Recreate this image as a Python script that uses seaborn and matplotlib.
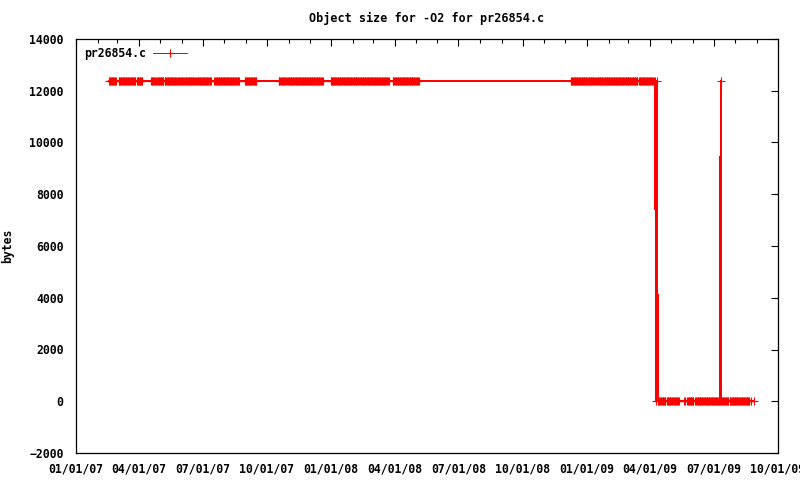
import pandas as pd
import matplotlib
matplotlib.use("Agg")
import matplotlib.pyplot as plt
import matplotlib.dates as mdates
import seaborn as sns

# object size (bytes)
size_old = 12376
size_new = 0

# nightly runs at the old size: (first day, last day)
old_runs = [
    ("2007-02-17", "2007-02-27"), ("2007-03-03", "2007-03-27"),
    ("2007-03-29", "2007-04-06"), ("2007-04-18", "2007-04-24"),
    ("2007-04-26", "2007-05-06"), ("2007-05-08", "2007-05-25"),
    ("2007-05-27", "2007-06-04"), ("2007-06-06", "2007-06-20"),
    ("2007-06-22", "2007-07-13"), ("2007-07-18", "2007-08-22"),
    ("2007-08-30", "2007-09-16"), ("2007-10-18", "2007-10-28"),
    ("2007-10-30", "2007-12-20"), ("2007-12-31", "2008-03-23"),
    ("2008-03-29", "2008-05-05"), ("2008-12-09", "2009-01-13"),
    ("2009-01-15", "2009-03-14"), ("2009-03-16", "2009-04-06"),
]

# nightly runs at the new size
new_runs = [
    ("2009-04-12", "2009-04-15"), ("2009-04-17", "2009-04-23"),
    ("2009-04-25", "2009-05-12"), ("2009-05-24", "2009-06-02"),
    ("2009-06-05", "2009-07-10"), ("2009-07-12", "2009-07-22"),
    ("2009-07-24", "2009-08-21"),
]

# single results around the drop and the one-off spike
single_dates = ["2009-04-08", "2009-04-10", "2009-04-11", "2009-05-19",
                "2009-05-21", "2009-07-11", "2009-08-24", "2009-08-27"]
single_sizes = [12376, 0, 12376, 0, 0, 12376, 0, 0]


def runs_to_frame(runs, size):
    parts = []
    for start, end in runs:
        days = pd.date_range(start, end, freq="D")
        parts.append(pd.DataFrame({"date": days, "bytes": size}))
    return pd.concat(parts)


df = pd.concat([
    runs_to_frame(old_runs, size_old),
    runs_to_frame(new_runs, size_new),
    pd.DataFrame({"date": pd.to_datetime(single_dates), "bytes": single_sizes}),
])
df = df.sort_values("date").reset_index(drop=True)
df["file"] = "pr26854.c"

sns.set_style("white")
plt.rcParams["font.family"] = ["DejaVu Sans Mono"]
plt.rcParams["font.weight"] = "bold"
plt.rcParams["font.size"] = 8
plt.rcParams["text.color"] = "black"

fig = plt.figure(figsize=(8, 4.8), dpi=100)
ax = fig.add_axes([0.095, 0.05625, 0.8775, 0.8625])

sns.lineplot(data=df, x="date", y="bytes", hue="file", palette=["#ff0000"],
             estimator=None, sort=False, marker="+", markersize=5.5,
             markeredgecolor="#ff0000", markeredgewidth=0.8, linewidth=0.72,
             antialiased=False, ax=ax)

ax.set_xlim(pd.Timestamp("2007-01-01"), pd.Timestamp("2009-10-01"))
ax.set_ylim(-2000, 14000)
ax.set_yticks(range(-2000, 14001, 2000))
ax.xaxis.set_major_locator(mdates.MonthLocator(bymonth=[1, 4, 7, 10]))
ax.xaxis.set_minor_locator(mdates.MonthLocator())
ax.xaxis.set_major_formatter(mdates.DateFormatter("%m/%d/%y"))

ax.tick_params(which="both", direction="in", top=True, right=True,
               color="black", width=0.8, labelsize=8.3, labelcolor="black")
ax.tick_params(which="major", length=5)
ax.tick_params(which="minor", length=3)
ax.tick_params(axis="x", pad=7)
ax.tick_params(axis="y", pad=9)
for lab in ax.get_xticklabels() + ax.get_yticklabels():
    lab.set_fontweight("bold")
for sp in ax.spines.values():
    sp.set_color("black")
    sp.set_linewidth(0.9)

ax.set_xlabel("")
ax.set_ylabel("bytes", fontsize=8.3, fontweight="bold", color="black")
ax.yaxis.set_label_coords(-0.088, 0.5)
ax.set_title("Object size for -O2 for pr26854.c", fontsize=8.5,
             fontweight="bold", pad=12, color="black")

leg = ax.legend(loc="upper left", frameon=False, markerfirst=False,
                handlelength=3.0, handletextpad=0.6, borderaxespad=0.3,
                prop={"family": "DejaVu Sans Mono", "weight": "bold", "size": 8.3})
for t in leg.get_texts():
    t.set_color("black")

fig.savefig("out.png", dpi=100)
